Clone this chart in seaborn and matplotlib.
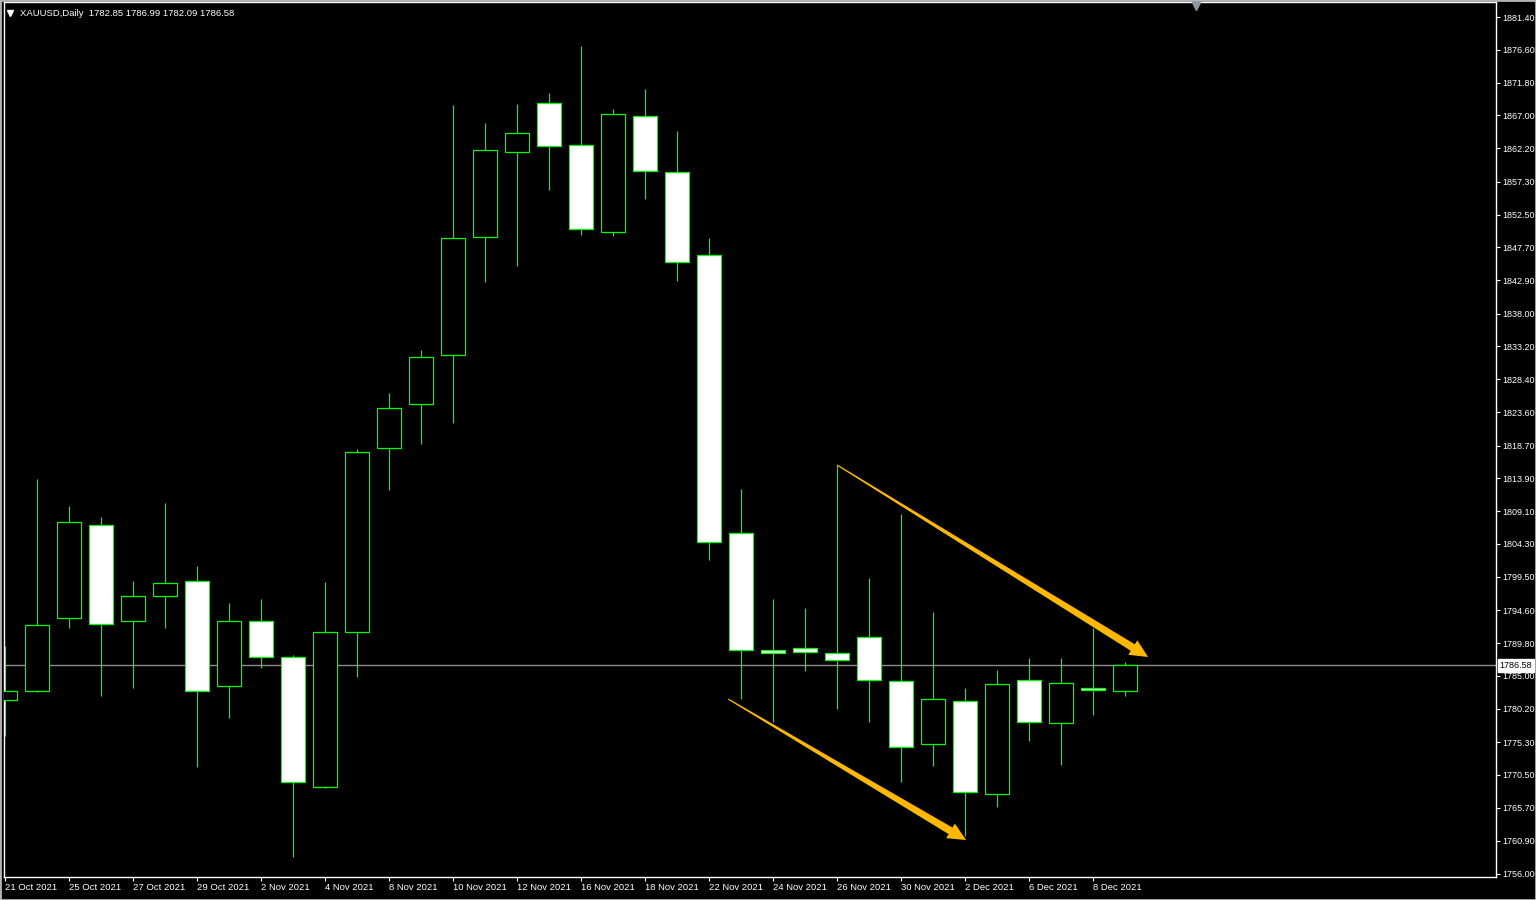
import matplotlib

matplotlib.use("Agg")

import matplotlib.pyplot as plt
import numpy as np
import pandas as pd
import seaborn as sns
from matplotlib import transforms
from matplotlib.patches import Rectangle

# --- chart data ---
SYMBOL = "XAUUSD,Daily"
DATES = [
    "21 Oct 2021", "22 Oct 2021", "25 Oct 2021", "26 Oct 2021", "27 Oct 2021", "28 Oct 2021",
    "29 Oct 2021", "1 Nov 2021", "2 Nov 2021", "3 Nov 2021", "4 Nov 2021", "5 Nov 2021",
    "8 Nov 2021", "9 Nov 2021", "10 Nov 2021", "11 Nov 2021", "12 Nov 2021", "15 Nov 2021",
    "16 Nov 2021", "17 Nov 2021", "18 Nov 2021", "19 Nov 2021", "22 Nov 2021", "23 Nov 2021",
    "24 Nov 2021", "25 Nov 2021", "26 Nov 2021", "29 Nov 2021", "30 Nov 2021", "1 Dec 2021",
    "2 Dec 2021", "3 Dec 2021", "6 Dec 2021", "7 Dec 2021", "8 Dec 2021", "9 Dec 2021",
]
OPENS = [
    1781.46, 1782.78, 1793.46, 1807.07, 1793.02, 1796.68, 1798.87, 1783.51, 1793.02, 1787.75,
    1768.73, 1791.41, 1818.33, 1824.77, 1831.94, 1849.21, 1861.65, 1868.82, 1862.67, 1849.94,
    1866.91, 1858.72, 1846.57, 1805.90, 1788.77, 1789.07, 1788.34, 1790.68, 1784.24, 1775.02,
    1781.31, 1767.70, 1784.38, 1778.09, 1783.21, 1782.85,
]
HIGHS = [
    1789.36, 1813.80, 1809.85, 1808.24, 1798.87, 1810.29, 1801.07, 1795.65, 1796.24, 1788.04,
    1798.72, 1818.19, 1826.38, 1832.67, 1868.52, 1865.89, 1868.67, 1870.28, 1877.16, 1867.94,
    1870.86, 1864.72, 1849.06, 1812.33, 1796.24, 1794.92, 1815.85, 1799.31, 1808.68, 1794.34,
    1783.21, 1785.85, 1787.60, 1787.60, 1791.99, 1786.99,
]
LOWS = [
    1776.19, 1782.60, 1791.99, 1782.04, 1783.21, 1791.99, 1771.65, 1778.82, 1786.14, 1758.48,
    1768.60, 1784.82, 1812.19, 1818.92, 1821.99, 1842.62, 1844.96, 1856.09, 1849.50, 1849.35,
    1854.77, 1842.77, 1801.94, 1781.60, 1778.24, 1785.70, 1780.14, 1778.24, 1769.46, 1771.80,
    1761.56, 1765.80, 1775.46, 1771.95, 1779.26, 1782.09,
]
CLOSES = [
    1782.78, 1792.43, 1807.50, 1792.58, 1796.68, 1798.58, 1782.78, 1793.02, 1787.75, 1769.46,
    1791.41, 1817.75, 1824.19, 1831.65, 1849.06, 1861.94, 1864.43, 1862.52, 1850.38, 1867.21,
    1858.87, 1845.55, 1804.58, 1788.77, 1788.34, 1788.48, 1787.31, 1784.38, 1774.58, 1781.60,
    1768.00, 1783.80, 1778.24, 1783.95, 1782.92, 1786.58,
]
PRICE_TICKS = [
    1881.40, 1876.60, 1871.80, 1867.00, 1862.20, 1857.30, 1852.50, 1847.70, 1842.90,
    1838.00, 1833.20, 1828.40, 1823.60, 1818.70, 1813.90, 1809.10, 1804.30, 1799.50,
    1794.60, 1789.80, 1785.00, 1780.20, 1775.30, 1770.50, 1765.70, 1760.90, 1756.00,
]
# hand-drawn trend arrows: (bar index, price) start -> end
ARROW_LINES = [
    ((26.0, 1815.85), (35.72, 1787.75)),
    ((22.6, 1781.60), (30.03, 1760.97)),
]

# --- layout / style ---
W, H, DPI = 1536, 900, 100
PANEL_LEFT, PANEL_RIGHT, PANEL_TOP, PANEL_BOTTOM = 4, 1496, 2, 877
X_LIMITS = (-0.03, 46.59)
Y_LIMITS = (1755.56, 1883.60)
CANDLE_GREEN = "#00ff00"
ARROW_GOLD = "#ffb800"
FONT_SIZE = 6.8
SCALE_FONT_SIZE = 6.5


def draw_tapered_arrow(ax, start, end, color):
    p0, p1 = ax.transData.transform([start, end])
    d = p1 - p0
    u = d / np.hypot(*d)
    n = np.array([-u[1], u[0]])
    base = p1 - u * 18
    pts = np.array([
        p0 + n * 0.6, base + n * 3.8, base + n * 8.5, p1,
        base - n * 8.5, base - n * 3.8, p0 - n * 0.6,
    ])
    data_pts = ax.transData.inverted().transform(pts)
    ax.fill(data_pts[:, 0], data_pts[:, 1], color=color, lw=0, zorder=5)


def main() -> None:
    sns.set_theme(style="ticks", rc={
        "axes.facecolor": "black",
        "figure.facecolor": "black",
        "axes.edgecolor": "white",
        "text.color": "white",
        "xtick.color": "white",
        "ytick.color": "white",
    })
    plt.rcParams["font.family"] = ["Liberation Sans", "DejaVu Sans"]

    df = pd.DataFrame({
        "date": DATES, "open": OPENS, "high": HIGHS, "low": LOWS, "close": CLOSES,
    })
    df["x"] = np.arange(len(df))
    df["bull"] = df["close"] > df["open"]
    df["body_low"] = df[["open", "close"]].min(axis=1)
    df["body_h"] = (df["close"] - df["open"]).abs().clip(lower=0.15)

    fig = plt.figure(figsize=(W / DPI, H / DPI), dpi=DPI)
    ax = fig.add_axes([
        PANEL_LEFT / W, (H - PANEL_BOTTOM) / H,
        (PANEL_RIGHT - PANEL_LEFT) / W, (PANEL_BOTTOM - PANEL_TOP) / H,
    ])
    ax.set_xlim(*X_LIMITS)
    ax.set_ylim(*Y_LIMITS)

    last_price = df["close"].iloc[-1]
    ax.axhline(last_price, color="#8c8c8c", lw=1.0, zorder=1)

    ax.vlines(df["x"], df["low"], df["high"], color=CANDLE_GREEN, lw=0.9, zorder=2)
    ax.bar(
        df["x"], df["body_h"], bottom=df["body_low"], width=0.75,
        color=np.where(df["bull"], "black", "white"),
        edgecolor=CANDLE_GREEN, linewidth=0.9, zorder=3,
    )

    for start, end in ARROW_LINES:
        draw_tapered_arrow(ax, start, end, ARROW_GOLD)

    # axes / ticks
    for side in ["left", "right", "top", "bottom"]:
        ax.spines[side].set_color("white")
        ax.spines[side].set_linewidth(1.0)
        ax.spines[side].set_visible(True)
    ax.yaxis.tick_right()
    ax.set_yticks(PRICE_TICKS)
    ax.set_yticklabels([f"{v:.2f}" for v in PRICE_TICKS])
    ax.tick_params(axis="y", length=3, width=0.8, pad=1.5, labelsize=SCALE_FONT_SIZE,
                   direction="out")

    tick_rows = df.iloc[::2]
    ax.set_xticks(tick_rows["x"])
    ax.set_xticklabels(tick_rows["date"])
    ax.tick_params(axis="x", length=3, width=0.8, pad=1.5, labelsize=FONT_SIZE, direction="out")
    for lbl in ax.get_xticklabels():
        lbl.set_ha("left")
    ax.grid(False)

    # current price tag on the price scale
    blend = transforms.blended_transform_factory(ax.transAxes, ax.transData)
    ax.text(
        1.0025, last_price, f"{last_price:.2f}", transform=blend, ha="left", va="center",
        fontsize=SCALE_FONT_SIZE, color="black", clip_on=False, zorder=6,
        bbox=dict(boxstyle="square,pad=0.22", fc="white", ec="white"),
    )

    # chart header
    o, h, l, c = df.iloc[-1][["open", "high", "low", "close"]]
    fig.text(20 / W, 1 - 13 / H, f"{SYMBOL}  {o:.2f} {h:.2f} {l:.2f} {c:.2f}",
             color="white", fontsize=FONT_SIZE, va="center", ha="left")
    fig.add_artist(plt.Line2D([10 / W], [1 - 13 / H], marker="v", markersize=4.5,
                              color="white", transform=fig.transFigure))
    # chart shift marker
    fig.add_artist(plt.Line2D([1196 / W], [1 - 6 / H], marker="v", markersize=6,
                              color="#8a98a6", transform=fig.transFigure))

    # window border
    fig.add_artist(Rectangle((0, 0), 1, 1, transform=fig.transFigure, fill=False,
                             ec="#b4b4b4", lw=2.0))

    fig.savefig("out.png", dpi=DPI, facecolor="black")
    plt.close(fig)


if __name__ == "__main__":
    main()
